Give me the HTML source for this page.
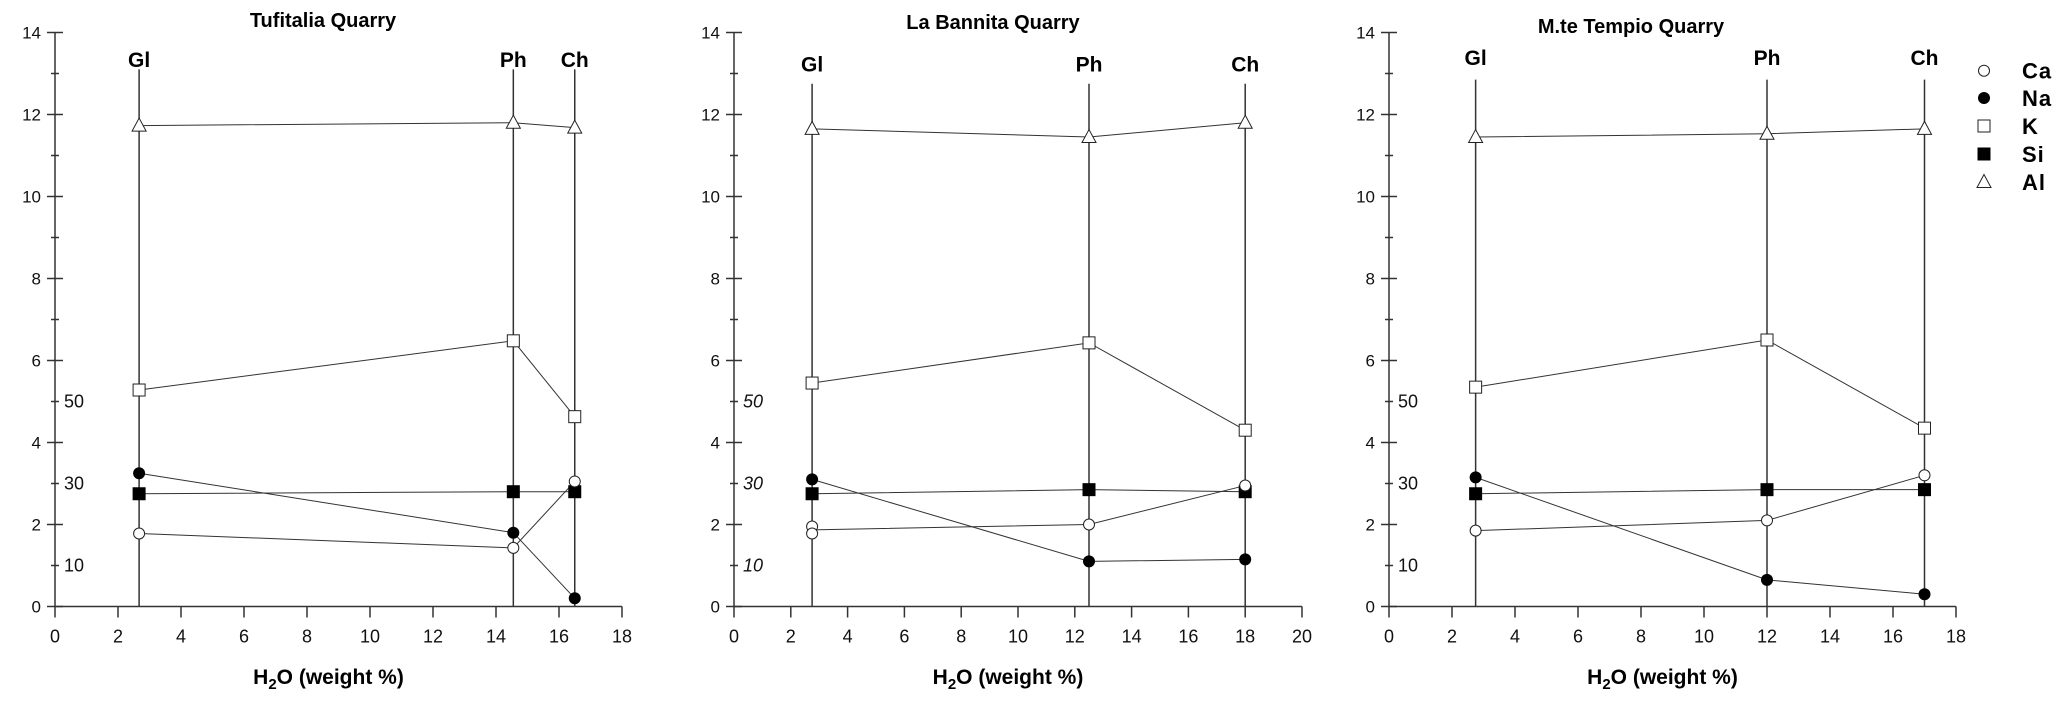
<!DOCTYPE html>
<html><head><meta charset="utf-8"><style>
html,body{margin:0;padding:0;background:#fff;}
svg{display:block;font-family:"Liberation Sans",Arial,sans-serif;}
</style></head><body>
<svg id="s" width="2067" height="703" viewBox="0 0 2067 703" xmlns="http://www.w3.org/2000/svg"></svg>
<script>
var s=document.getElementById('s');var out='';
var Y0=606.5,YU=41;
function py(v){return Y0-v*YU;}
var panels=[
 {x0:55,xu:31.5,xmax:18,title:'Tufitalia Quarry',tx:323,ty:27,italic:false,
  xs:[2.67,14.55,16.5],top:13.1,lab:13.35,
  Al:[11.73,11.8,11.68],K:[5.28,6.48,4.63],Na:[3.25,1.8,0.2],Si:[2.75,2.8,2.8],Ca:[1.78,1.43,3.05]},
 {x0:734,xu:28.4,xmax:20,title:'La Bannita Quarry',tx:993,ty:29,italic:true,
  xs:[2.75,12.5,18],top:12.75,lab:13.25,
  Al:[11.65,11.45,11.8],K:[5.45,6.43,4.3],Na:[3.1,1.1,1.15],Si:[2.75,2.85,2.8],Ca:[1.87,2.0,2.95],extraCa:[[2.75,1.95],[2.75,1.78]]},
 {x0:1389,xu:31.5,xmax:18,title:'M.te Tempio Quarry',tx:1631,ty:33,italic:false,
  xs:[2.75,12,17],top:12.85,lab:13.4,
  Al:[11.45,11.53,11.65],K:[5.35,6.5,4.35],Na:[3.15,0.65,0.3],Si:[2.75,2.85,2.85],Ca:[1.85,2.1,3.2]}
];
function mk(t,x,y){
 if(t=='Ca')return '<circle cx="'+x+'" cy="'+y+'" r="5.5" fill="#fff" stroke="#222" stroke-width="1"/>';
 if(t=='Na')return '<circle cx="'+x+'" cy="'+y+'" r="6" fill="#000"/>';
 if(t=='K')return '<rect x="'+(x-6)+'" y="'+(y-6)+'" width="12" height="12" fill="#fff" stroke="#222" stroke-width="1"/>';
 if(t=='Si')return '<rect x="'+(x-6.5)+'" y="'+(y-6.5)+'" width="13" height="13" fill="#000"/>';
 if(t=='Al')return '<polygon points="'+x+','+(y-7.5)+' '+(x-7)+','+(y+5.5)+' '+(x+7)+','+(y+5.5)+'" fill="#fff" stroke="#222" stroke-width="1"/>';
}
panels.forEach(function(p){
 var px=function(v){return p.x0+v*p.xu;};
 var xe=px(p.xmax);
 out+='<line x1="'+p.x0+'" y1="'+py(14)+'" x2="'+p.x0+'" y2="'+Y0+'" stroke="#333" stroke-width="1.5"/>';
 out+='<line x1="'+p.x0+'" y1="'+Y0+'" x2="'+xe+'" y2="'+Y0+'" stroke="#333" stroke-width="1.5"/>';
 for(var v=0;v<=14;v++){
  var y=py(v);
  if(v%2==0){out+='<line x1="'+(p.x0-8)+'" y1="'+y+'" x2="'+(p.x0+8)+'" y2="'+y+'" stroke="#333" stroke-width="1.5"/>';
   out+='<text x="'+(p.x0-14)+'" y="'+(y+6)+'" font-size="17" text-anchor="end" fill="#111">'+v+'</text>';}
  else out+='<line x1="'+(p.x0-4)+'" y1="'+y+'" x2="'+(p.x0+4)+'" y2="'+y+'" stroke="#333" stroke-width="1.5"/>';
 }
 [[5,'50'],[3,'30'],[1,'10']].forEach(function(a){
  out+='<text x="'+(p.x0+9)+'" y="'+(py(a[0])+6)+'" font-size="18" fill="#111"'+(p.italic?' font-style="italic"':'')+'>'+a[1]+'</text>';});
 for(var v=0;v<=p.xmax;v+=2){var x=px(v);
  out+='<line x1="'+x+'" y1="'+Y0+'" x2="'+x+'" y2="'+(Y0+11)+'" stroke="#333" stroke-width="1.5"/>';
  out+='<text x="'+x+'" y="'+(Y0+36)+'" font-size="18" text-anchor="middle" fill="#111">'+v+'</text>';}
 out+='<text x="'+p.tx+'" y="'+p.ty+'" font-size="20" font-weight="bold" text-anchor="middle">'+p.title+'</text>';
 var cx=(p.x0+xe)/2-10;
 out+='<text x="'+cx+'" y="684" font-size="21" font-weight="bold" text-anchor="middle">H<tspan font-size="15" dy="5">2</tspan><tspan dy="-5">O (weight %)</tspan></text>';
 var labs=['Gl','Ph','Ch'];
 p.xs.forEach(function(xv,i){var x=px(xv);
  out+='<line x1="'+x+'" y1="'+py(p.top)+'" x2="'+x+'" y2="'+Y0+'" stroke="#333" stroke-width="1.5"/>';
  out+='<text x="'+x+'" y="'+(py(p.lab)+8)+'" font-size="21" font-weight="bold" text-anchor="middle">'+labs[i]+'</text>';});
 ['Al','K','Si','Na','Ca'].forEach(function(k){
  var pts=p.xs.map(function(xv,i){return px(xv)+','+py(p[k][i]);}).join(' ');
  out+='<polyline points="'+pts+'" fill="none" stroke="#333" stroke-width="1"/>';});
 ['Al','K','Si','Na','Ca'].forEach(function(k){
  p.xs.forEach(function(xv,i){ if(k=='Ca'&&p.extraCa&&i==0)return; out+=mk(k,px(xv),py(p[k][i]));});});
 if(p.extraCa)p.extraCa.forEach(function(a){out+=mk('Ca',px(a[0]),py(a[1]));});
});
var leg=[['Ca',70.7],['Na',98],['K',126],['Si',154],['Al',182]];
leg.forEach(function(l){out+=mk(l[0],1984,l[1]);
 out+='<text x="2022" y="'+(l[1]+8)+'" font-size="22" font-weight="bold" letter-spacing="1">'+l[0]+'</text>';});
s.innerHTML=out;
</script>
</body></html>
